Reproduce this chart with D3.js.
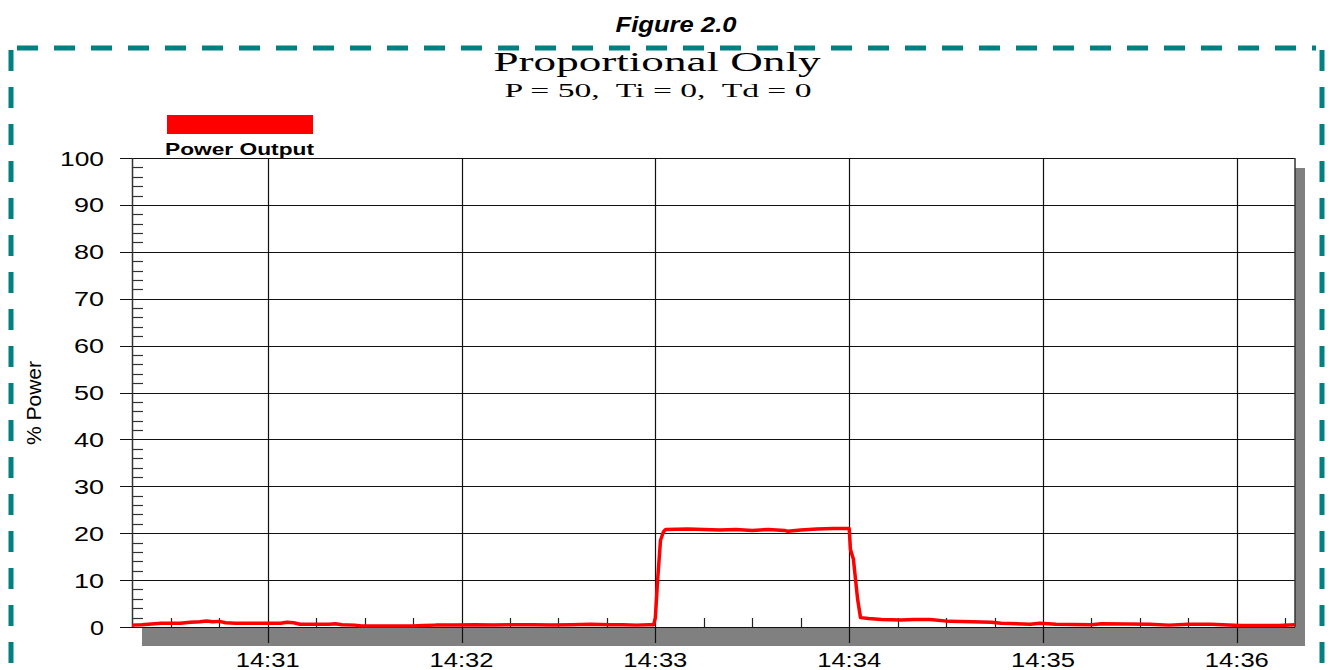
<!DOCTYPE html>
<html>
<head>
<meta charset="utf-8" />
<script src="https://cdnjs.cloudflare.com/ajax/libs/d3/7.8.5/d3.min.js"></script>
<style>
  body { margin: 0; background: #fff; }
  svg { display: block; }
  .tick-label { font-family: "Liberation Sans", Arial, sans-serif; font-size: 20px; fill: #000; }
</style>
</head>
<body>
<div id="chart"></div>
<script>
    // seconds after 14:30:00 and the power output read at that moment
    const secondsAfter1430 = [
        18, 21, 23, 27, 33, 36, 39, 41, 43, 45, 47, 50, 55, 60, 64, 66, 68, 70, 75, 79,
        81, 83, 87, 89, 95, 100, 105, 108, 112, 118, 124, 130, 136, 142, 148, 154, 160, 166, 170, 174,
        178, 179.5, 180, 180.7, 181.6, 182.5, 183.2, 190, 200, 205, 210, 215, 220, 221, 225, 230, 235, 239.5,
        240, 240.4, 241.3, 242.6, 243.5, 246, 250, 256, 260, 265, 271, 278, 284, 287, 296, 299, 304, 315,
        318, 333, 339, 345, 352, 361, 373, 378
    ]
    const powerOutput = [
        0.4, 0.5, 0.6, 0.8, 0.8, 1.0, 1.1, 1.3, 1.1, 1.2, 0.9, 0.8, 0.8, 0.8, 0.8, 1.0, 0.9, 0.6, 0.6, 0.6,
        0.7, 0.5, 0.4, 0.2, 0.2, 0.2, 0.2, 0.3, 0.4, 0.4, 0.5, 0.4, 0.5, 0.5, 0.4, 0.5, 0.6, 0.5, 0.5, 0.4,
        0.5, 0.5, 2, 10, 18.5, 20.3, 20.8, 20.9, 20.7, 20.8, 20.6, 20.8, 20.6, 20.4, 20.7, 20.9, 21.0, 21.0,
        21.0, 16.5, 14.5, 6, 2, 1.8, 1.6, 1.5, 1.6, 1.6, 1.2, 1.1, 1.0, 0.8, 0.6, 0.8, 0.6, 0.5,
        0.7, 0.6, 0.4, 0.6, 0.6, 0.3, 0.3, 0.5
    ]
    const yTicks = [0, 10, 20, 30, 40, 50, 60, 70, 80, 90, 100]
    const domainStart = '14:30:18'
    const domainEnd = '14:36:18'

    const W = 1330, H = 670
    const margin = { left: 132, right: 1295, top: 158, bottom: 627 }

    const parse = d3.timeParse('%H:%M:%S')
    const base = parse('14:30:00')
    const data = secondsAfter1430.map(function(s, i) {
        return { t: new Date(base.getTime() + s * 1000), v: powerOutput[i] }
    })

    const x = d3.scaleTime()
        .domain([parse(domainStart), parse(domainEnd)])
        .range([margin.left, margin.right])
    const y = d3.scaleLinear()
        .domain([0, 100])
        .range([margin.bottom, margin.top])

    const svg = d3.select('#chart')
        .append('svg')
        .attr('width', W)
        .attr('height', H)

    // figure caption
    svg.append('text')
        .attr('x', 676).attr('y', 32)
        .attr('text-anchor', 'middle')
        .attr('textLength', 121).attr('lengthAdjust', 'spacingAndGlyphs')
        .style('font-family', '"Liberation Sans", Arial, sans-serif')
        .style('font-size', '22px').style('font-weight', 'bold').style('font-style', 'italic')
        .text('Figure 2.0')

    // dashed teal frame
    const teal = '#008080'
    const frame = [
        [17, 48, 1316, 48],
        [11, 50, 11, 690],
        [1322, 50, 1322, 690]
    ]
    svg.selectAll('.frame')
        .data(frame)
        .enter()
        .append('line')
            .attr('x1', d => d[0]).attr('y1', d => d[1])
            .attr('x2', d => d[2]).attr('y2', d => d[3])
            .attr('stroke', teal)
            .attr('stroke-width', 5)
            .attr('stroke-dasharray', '21,16')

    // titles
    svg.append('text')
        .attr('x', 657).attr('y', 71)
        .attr('text-anchor', 'middle')
        .attr('textLength', 327).attr('lengthAdjust', 'spacingAndGlyphs')
        .style('font-family', '"Liberation Serif", "Times New Roman", serif')
        .style('font-size', '27px')
        .text('Proportional Only')
    svg.append('text')
        .attr('x', 658).attr('y', 97)
        .attr('text-anchor', 'middle')
        .attr('textLength', 307).attr('lengthAdjust', 'spacingAndGlyphs')
        .attr('xml:space', 'preserve')
        .style('white-space', 'pre')
        .style('font-family', '"Liberation Serif", "Times New Roman", serif')
        .style('font-size', '19px')
        .text('P = 50,  Ti = 0,  Td = 0')

    // legend
    svg.append('rect')
        .attr('x', 167).attr('y', 115)
        .attr('width', 146).attr('height', 19)
        .attr('fill', '#ff0000')
    svg.append('text')
        .attr('x', 165).attr('y', 155)
        .attr('textLength', 149).attr('lengthAdjust', 'spacingAndGlyphs')
        .style('font-family', '"Liberation Sans", Arial, sans-serif')
        .style('font-size', '17px').style('font-weight', 'bold')
        .text('Power Output')

    // shadow + plot area
    svg.append('rect')
        .attr('x', margin.left + 10).attr('y', margin.top + 10)
        .attr('width', margin.right - margin.left).attr('height', margin.bottom - margin.top + 9)
        .attr('fill', '#808080')
    svg.append('rect')
        .attr('x', margin.left).attr('y', margin.top)
        .attr('width', margin.right - margin.left).attr('height', margin.bottom - margin.top)
        .attr('fill', '#fff')

    // horizontal grid
    svg.selectAll('.hgrid')
        .data(yTicks)
        .enter()
        .append('line')
            .attr('x1', margin.left - 12).attr('x2', margin.right)
            .attr('y1', d => Math.round(y(d)) + 0.5).attr('y2', d => Math.round(y(d)) + 0.5)
            .attr('stroke', '#111').attr('stroke-width', 1.2)

    // minor y ticks
    const yMinor = d3.range(0, 100, 2).filter(v => v % 10 !== 0)
    svg.selectAll('.yminor')
        .data(yMinor)
        .enter()
        .append('line')
            .attr('x1', margin.left).attr('x2', margin.left + 11)
            .attr('y1', d => Math.round(y(d)) + 0.5).attr('y2', d => Math.round(y(d)) + 0.5)
            .attr('stroke', '#333').attr('stroke-width', 1.2)

    // vertical grid at minutes
    const minutes = x.ticks(d3.timeMinute.every(1))
    svg.selectAll('.vgrid')
        .data(minutes)
        .enter()
        .append('line')
            .attr('x1', d => Math.round(x(d)) + 0.5).attr('x2', d => Math.round(x(d)) + 0.5)
            .attr('y1', margin.top).attr('y2', margin.bottom + 16)
            .attr('stroke', '#111').attr('stroke-width', 1.2)

    // minor x ticks every 15 s
    const xMinor = x.ticks(d3.timeSecond.every(15)).filter(d => d.getSeconds() !== 0)
    svg.selectAll('.xminor')
        .data(xMinor)
        .enter()
        .append('line')
            .attr('x1', d => Math.round(x(d)) + 0.5).attr('x2', d => Math.round(x(d)) + 0.5)
            .attr('y1', margin.bottom - 9).attr('y2', margin.bottom)
            .attr('stroke', '#222').attr('stroke-width', 1.2)

    // frame of plot
    svg.append('line')
        .attr('x1', margin.left + 0.5).attr('x2', margin.left + 0.5)
        .attr('y1', margin.top).attr('y2', margin.bottom)
        .attr('stroke', '#333').attr('stroke-width', 1.5)
    svg.append('line')
        .attr('x1', margin.right).attr('x2', margin.right)
        .attr('y1', margin.top).attr('y2', margin.bottom)
        .attr('stroke', '#333').attr('stroke-width', 1.5)

    // data line
    const line = d3.line()
        .x(d => x(d.t))
        .y(d => y(d.v))
    svg.append('path')
        .datum(data)
        .attr('d', line)
        .attr('fill', 'none')
        .attr('stroke', '#ff0000')
        .attr('stroke-width', 3.5)
        .attr('stroke-linejoin', 'round')

    // tick labels
    const yLabelWidth = { 1: 14, 2: 30, 3: 44 }
    svg.selectAll('.ylab')
        .data(yTicks)
        .enter()
        .append('text')
            .attr('class', 'tick-label')
            .attr('x', 104)
            .attr('y', d => y(d) + 7.5)
            .attr('text-anchor', 'end')
            .attr('textLength', d => yLabelWidth[String(d).length])
            .attr('lengthAdjust', 'spacingAndGlyphs')
            .text(d => d)
    const fmt = d3.timeFormat('%H:%M')
    svg.selectAll('.xlab')
        .data(minutes)
        .enter()
        .append('text')
            .attr('class', 'tick-label')
            .attr('x', d => x(d))
            .attr('y', 667)
            .attr('text-anchor', 'middle')
            .attr('textLength', 64)
            .attr('lengthAdjust', 'spacingAndGlyphs')
            .text(d => fmt(d))

    svg.append('text')
        .attr('transform', 'translate(41,403) rotate(-90)')
        .attr('text-anchor', 'middle')
        .style('font-family', '"Liberation Sans", Arial, sans-serif')
        .style('font-size', '21px')
        .text('% Power')
</script>
</body>
</html>
